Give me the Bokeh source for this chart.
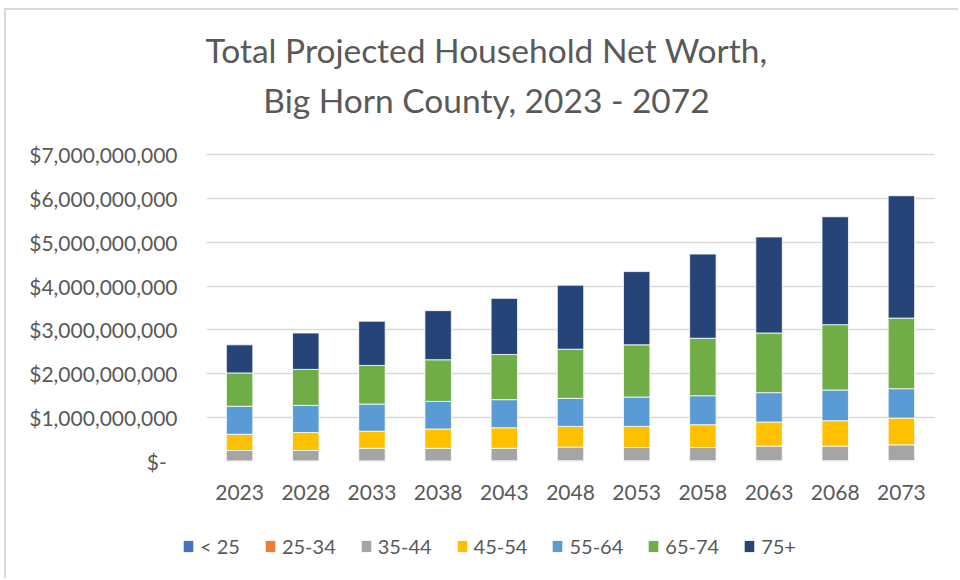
from bokeh.plotting import figure
from bokeh.layouts import column
from bokeh.models import (ColumnDataSource, Legend, LegendItem, Label, FixedTicker,
                          FactorRange, Range1d, Grid)
from bokeh.embed import file_html
from bokeh.resources import INLINE

# ---- data ----
years = ["2023", "2028", "2033", "2038", "2043", "2048", "2053", "2058", "2063", "2068", "2073"]
age_groups = ["< 25", "25-34", "35-44", "45-54", "55-64", "65-74", "75+"]

under_25 = [3e6, 3e6, 3e6, 3e6, 4e6, 4e6, 4e6, 4e6, 4e6, 5e6, 5e6]
age_25_34 = [10e6, 10e6, 11e6, 11e6, 12e6, 12e6, 13e6, 13e6, 14e6, 14e6, 15e6]
age_35_44 = [237e6, 237e6, 286e6, 286e6, 284e6, 314e6, 303e6, 303e6, 332e6, 331e6, 360e6]
age_45_54 = [370e6, 410e6, 390e6, 440e6, 470e6, 470e6, 480e6, 520e6, 550e6, 580e6, 610e6]
age_55_64 = [640e6, 620e6, 620e6, 630e6, 640e6, 640e6, 670e6, 660e6, 670e6, 700e6, 670e6]
age_65_74 = [760e6, 820e6, 880e6, 950e6, 1030e6, 1120e6, 1190e6, 1310e6, 1360e6, 1490e6, 1610e6]
age_75_plus = [640e6, 830e6, 1010e6, 1120e6, 1280e6, 1460e6, 1670e6, 1920e6, 2190e6, 2460e6, 2790e6]

y_ticks = [0, 1e9, 2e9, 3e9, 4e9, 5e9, 6e9, 7e9]
y_tick_labels = ["$-\u00a0\u00a0", "$1,000,000,000", "$2,000,000,000", "$3,000,000,000",
                 "$4,000,000,000", "$5,000,000,000", "$6,000,000,000", "$7,000,000,000"]

title_lines = ["Total Projected Household Net Worth,", "Big Horn County, 2023 - 2072"]

colors = ["#4472C4", "#ED7D31", "#A5A5A5", "#FFC000", "#5B9BD5", "#70AD47", "#264478"]

FONT = "Lato"
TXT = "#595959"
GRID_C = "#D9D9D9"

source = ColumnDataSource(data={
    "year": years,
    "< 25": under_25,
    "25-34": age_25_34,
    "35-44": age_35_44,
    "45-54": age_45_54,
    "55-64": age_55_64,
    "65-74": age_65_74,
    "75+": age_75_plus,
})

# ---- layout constants (page pixels, then shifted by the chart-area border offset) ----
OX, OY = 6, 10                 # outer chart-area border (margin + 2px border)
W = 958 - OX
H2 = 58                        # legend strip height (page 520..578)
TOP = 20 - OY                  # frame top (title lives inside frame)
BASE = 461 - OY                # y of value 0
H1 = 520 - OY                  # main chart canvas height
GRID_PX = 307                  # px from 0 to 7e9
FRAME_L = 182 - OX             # frame left
CAT_PX = 728                   # px spanned by the 11 categories
PAD = ((W - FRAME_L) - CAT_PX) / 2 / (CAT_PX / len(years))

y_end = y_ticks[-1] * (BASE - TOP) / GRID_PX

p = figure(x_range=FactorRange(*years, range_padding=PAD, range_padding_units="absolute"),
           y_range=Range1d(0, y_end), width=W, height=H1,
           output_backend="svg", toolbar_location=None,
           min_border_left=FRAME_L, min_border_right=0,
           min_border_top=TOP, min_border_bottom=H1 - BASE)

p.vbar_stack(age_groups, x="year", width=0.4, source=source,
             fill_color=colors, line_color="white", line_width=0.8)

p.outline_line_color = None
p.background_fill_color = "white"
p.border_fill_color = "white"

p.xgrid.grid_line_color = None
p.ygrid.grid_line_color = GRID_C
p.ygrid.grid_line_width = 1.3
p.ygrid.ticker = FixedTicker(ticks=y_ticks)
if "cross_bounds" in Grid.properties():
    p.ygrid.cross_bounds = (0, len(years))

p.yaxis.ticker = FixedTicker(ticks=y_ticks)
p.yaxis.major_label_overrides = {t: lab for t, lab in zip(y_ticks, y_tick_labels)}
p.yaxis.axis_line_color = None
p.yaxis.major_tick_line_color = None
p.yaxis.minor_tick_line_color = None
p.yaxis.major_tick_out = 0
p.yaxis.major_tick_in = 0
p.yaxis.major_label_standoff = 5
p.yaxis.major_label_text_font = FONT
p.yaxis.major_label_text_font_size = "21px"
p.yaxis.major_label_text_color = TXT

p.xaxis.axis_line_color = None
p.xaxis.major_tick_line_color = None
p.xaxis.major_tick_out = 0
p.xaxis.major_tick_in = 0
p.xaxis.major_label_standoff = 23
p.xaxis.major_label_text_font = FONT
p.xaxis.major_label_text_font_size = "21px"
p.xaxis.major_label_text_color = TXT

# title: two labels inside the frame (screen units, relative to the frame)
TITLE_CX = 486 - 182
for txt, yb in zip(title_lines, [461 - 59.5 + 10, 461 - 109.3 + 10]):
    p.add_layout(Label(x=TITLE_CX, y=yb, x_units="screen", y_units="screen", text=txt,
                       text_align="center", text_baseline="alphabetic",
                       text_font=FONT, text_font_size="33.5px", text_color=TXT))

# ---- legend strip (own figure; its bars lie far outside its view, only the legend shows) ----
pl = figure(x_range=FactorRange(*years, range_padding=PAD, range_padding_units="absolute"),
            y_range=Range1d(1e12, 2e12), width=W, height=H2,
            output_backend="svg", toolbar_location=None,
            min_border_left=FRAME_L, min_border_right=0, min_border_top=0, min_border_bottom=0)
pl.axis.visible = False
pl.grid.visible = False
pl.outline_line_color = None
pl.background_fill_color = "white"
pl.border_fill_color = "white"

legend_renderers = pl.vbar_stack(age_groups, x="year", width=0.4, source=source,
                                 fill_color=colors, line_color=None)
legend = Legend(items=[LegendItem(label=g, renderers=[r])
                       for g, r in zip(age_groups, legend_renderers)],
                orientation="horizontal", location=(0, 20),
                border_line_color=None, background_fill_alpha=0,
                padding=0, margin=0, spacing=24, label_standoff=6,
                glyph_width=12, glyph_height=14, label_height=14,
                label_text_font=FONT, label_text_font_size="20px", label_text_color=TXT)
pl.add_layout(legend)

layout = column(p, pl, spacing=0)
layout.styles = {"border-left": "2px solid #D9D9D9", "border-top": "2px solid #D9D9D9",
                 "margin-left": "4px", "margin-top": "8px"}
open("out.html", "w").write(file_html(layout, INLINE))
